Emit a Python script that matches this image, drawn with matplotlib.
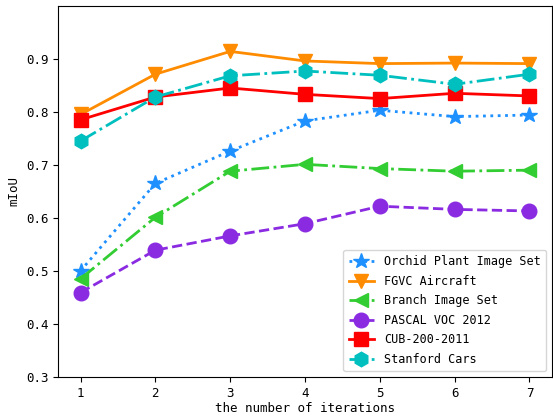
import matplotlib
matplotlib.use("Agg")
import matplotlib.pyplot as plt

iterations = [1, 2, 3, 4, 5, 6, 7]
orchid = [0.500, 0.665, 0.726, 0.783, 0.803, 0.791, 0.794]
fgvc = [0.795, 0.871, 0.914, 0.896, 0.891, 0.892, 0.891]
branch = [0.485, 0.601, 0.688, 0.701, 0.693, 0.688, 0.690]
pascal = [0.459, 0.539, 0.566, 0.589, 0.622, 0.616, 0.613]
cub = [0.785, 0.828, 0.845, 0.833, 0.825, 0.835, 0.830]
stanford = [0.745, 0.828, 0.868, 0.877, 0.869, 0.852, 0.871]
labels = ["Orchid Plant Image Set", "FGVC Aircraft", "Branch Image Set",
          "PASCAL VOC 2012", "CUB-200-2011", "Stanford Cars"]

plt.rcParams['font.family'] = ['DejaVu Sans Mono']

fig = plt.figure(figsize=(5.53, 4.16), dpi=100)
ax = fig.add_axes([0.105, 0.094, 0.893, 0.892])

ms = 10.5
ax.plot(iterations, orchid, color='dodgerblue', linestyle=':', marker='*', markersize=ms + 1, linewidth=2, label=labels[0])
ax.plot(iterations, fgvc, color='darkorange', linestyle='-', marker='v', markersize=ms, linewidth=2, label=labels[1])
ax.plot(iterations, branch, color='limegreen', linestyle='-.', marker='<', markersize=ms, linewidth=2, label=labels[2])
ax.plot(iterations, pascal, color='blueviolet', linestyle='--', marker='o', markersize=ms, linewidth=2, label=labels[3])
ax.plot(iterations, cub, color='red', linestyle='-', marker='s', markersize=ms, linewidth=2, label=labels[4])
ax.plot(iterations, stanford, color='c', linestyle='-.', marker='h', markersize=ms, linewidth=2, label=labels[5])

ax.set_ylim(0.3, 1.0)
ax.set_xlim(0.7, 7.3)
ax.set_yticks([0.3, 0.4, 0.5, 0.6, 0.7, 0.8, 0.9])
ax.set_xticks(iterations)
ax.tick_params(labelsize=9)
ax.set_xlabel("the number of iterations", fontsize=9, labelpad=2)
ax.set_ylabel("mIoU", fontsize=9)
ax.legend(loc='lower right', fontsize=8.5, handlelength=2.2, borderpad=0.45, labelspacing=0.55)

fig.savefig("out.png", dpi=100)
